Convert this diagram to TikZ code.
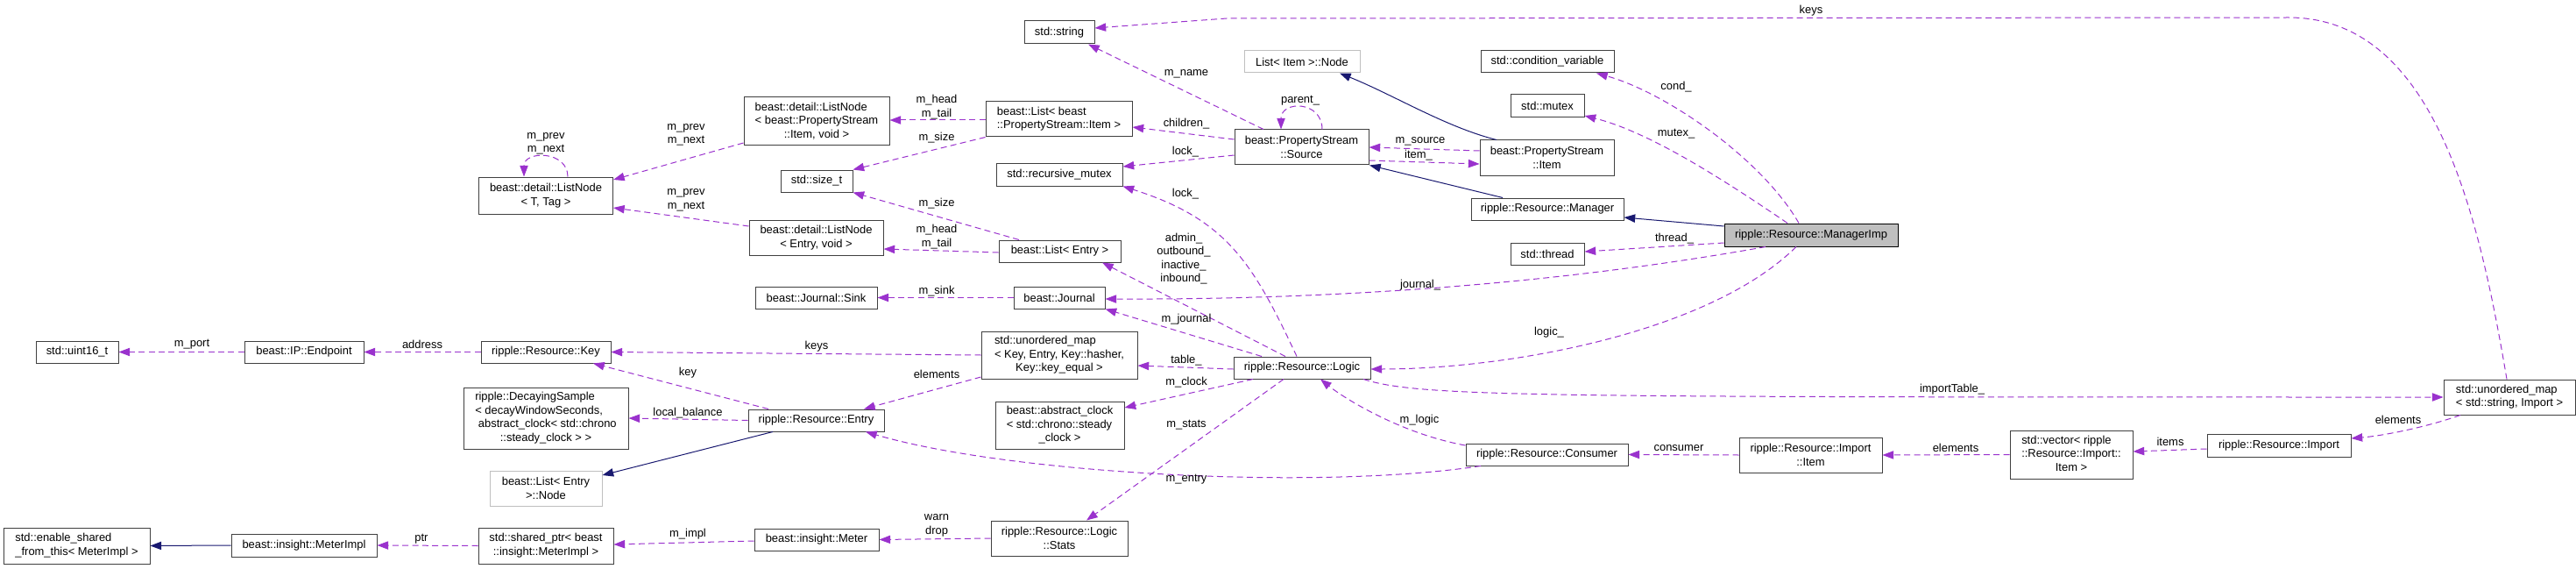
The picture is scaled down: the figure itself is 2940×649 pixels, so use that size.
\documentclass[tikz,border=0pt]{standalone}
\usepackage{fontspec}
\setmainfont{Liberation Sans}
\usetikzlibrary{arrows.meta}
\definecolor{member}{HTML}{9A32CD}
\definecolor{base}{HTML}{191970}
\definecolor{frame}{HTML}{404040}
\definecolor{greybox}{HTML}{BFBFBF}
\newcommand{\cllines}[1]{\begin{tabular}{@{}l@{}}#1\end{tabular}}
\newcommand{\cllast}[1]{\multicolumn{1}{@{}c@{}}{#1}}
\begin{document}
\begin{tikzpicture}[
        x=0.75pt, y=-0.75pt,
        every node/.style={font=\fontsize{9.7}{11.7}\selectfont, inner sep=0pt},
        cls/.style={draw=frame, fill=white, line width=0.75pt, align=center},
        undoc/.style={cls, draw=greybox},
        mainbox/.style={cls, draw=black, fill=greybox},
        boxw/.style={minimum width=#1*0.75pt},
        boxh/.style={minimum height=#1*0.75pt},
        lbl/.style={align=center},
        uses/.style={draw=member, line width=0.75pt, dash pattern=on 5.25pt off 3.25pt,
            -{Triangle[length=9.5pt,width=7pt]}},
        isa/.style={draw=base, line width=0.75pt, -{Triangle[length=9.5pt,width=7pt]}}
    ]
    \useasboundingbox (0,0) rectangle (2940,649);

    % Clases
    \node[cls, boxw=94,  boxh=25] (uint16)    at (88,401.5)   {std::uint16\_t};
    \node[cls, boxw=136, boxh=25] (endpoint)  at (347,401.5)  {beast::IP::Endpoint};
    \node[cls, boxw=148, boxh=25] (key)       at (623,401.5)  {ripple::Resource::Key};
    \node[cls, boxw=188, boxh=70] (decay)     at (623,477)
        {\cllines{ripple::DecayingSample\\< decayWindowSeconds,\\\ abstract\_clock< std::chrono\\\cllast{::steady\_clock > >}}};
    \node[undoc, boxw=128, boxh=40] (entrynode) at (623,557)  {beast::List< Entry\\>::Node};
    \node[cls, boxw=167, boxh=41] (enableshared) at (87.5,622.5)
        {\cllines{std::enable\_shared\\\cllast{\_from\_this< MeterImpl >}}};
    \node[cls, boxw=166, boxh=26] (meterimpl) at (347,622)    {beast::insight::MeterImpl};
    \node[cls, boxw=154, boxh=41] (sharedptr) at (623,622.5)
        {\cllines{std::shared\_ptr< beast\\\cllast{::insight::MeterImpl >}}};
    \node[cls, boxw=153, boxh=42] (listnodet) at (623,223)    {beast::detail::ListNode\\< T, Tag >};

    \node[cls, boxw=166, boxh=55] (listnodeitem) at (932,138.5)
        {\cllines{beast::detail::ListNode\\< beast::PropertyStream\\\cllast{::Item, void >}}};
    \node[cls, boxw=82,  boxh=25] (sizet)     at (932,206.5)  {std::size\_t};
    \node[cls, boxw=153, boxh=40] (listnodeentry) at (931.5,271) {beast::detail::ListNode\\< Entry, void >};
    \node[cls, boxw=139, boxh=25] (sink)      at (931.5,339.5) {beast::Journal::Sink};
    \node[cls, boxw=155, boxh=25] (entry)     at (931.5,479.5) {ripple::Resource::Entry};
    \node[cls, boxw=142, boxh=25] (meter)     at (932,615.5)  {beast::insight::Meter};

    \node[cls, boxw=80,  boxh=26] (string)    at (1209,37)    {std::string};
    \node[cls, boxw=167, boxh=40] (listitem)  at (1208.5,136)
        {\cllines{beast::List< beast\\\cllast{::PropertyStream::Item >}}};
    \node[cls, boxw=144, boxh=25] (recmutex)  at (1209,199.5) {std::recursive\_mutex};
    \node[cls, boxw=139, boxh=25] (listentry) at (1209.5,286.5) {beast::List< Entry >};
    \node[cls, boxw=104, boxh=25] (journal)   at (1209,339.5) {beast::Journal};
    \node[cls, boxw=178, boxh=54] (keymap)    at (1209,405)
        {\cllines{std::unordered\_map\\< Key, Entry, Key::hasher,\\\cllast{Key::key\_equal >}}};
    \node[cls, boxw=147, boxh=54] (clock)     at (1209.5,485)
        {\cllines{beast::abstract\_clock\\< std::chrono::steady\\\cllast{\_clock >}}};
    \node[cls, boxw=156, boxh=40] (stats)     at (1209,614)   {ripple::Resource::Logic\\::Stats};

    \node[undoc, boxw=132, boxh=25] (itemnode) at (1486,70.5) {List< Item >::Node};
    \node[cls, boxw=153, boxh=40] (source)    at (1485.5,168) {beast::PropertyStream\\::Source};
    \node[cls, boxw=156, boxh=25] (logic)     at (1486,419.5) {ripple::Resource::Logic};

    \node[cls, boxw=152, boxh=25] (condvar)   at (1766,70.5)  {std::condition\_variable};
    \node[cls, boxw=84,  boxh=26] (mutex)     at (1766,121)   {std::mutex};
    \node[cls, boxw=153, boxh=40] (psitem)    at (1765.5,180) {beast::PropertyStream\\::Item};
    \node[cls, boxw=174, boxh=25] (manager)   at (1766,238.5) {ripple::Resource::Manager};
    \node[cls, boxw=84,  boxh=25] (thread)    at (1766,289.5) {std::thread};
    \node[cls, boxw=185, boxh=25] (consumer)  at (1765.5,518.5) {ripple::Resource::Consumer};

    \node[mainbox, boxw=198, boxh=26] (managerimp) at (2067,268) {ripple::Resource::ManagerImp};
    \node[cls, boxw=163, boxh=40] (importitem) at (2066.5,519) {ripple::Resource::Import\\::Item};
    \node[cls, boxw=140, boxh=55] (importvec) at (2364,518.5)
        {\cllines{std::vector< ripple\\::Resource::Import::\\\cllast{Item >}}};
    \node[cls, boxw=164, boxh=26] (import)    at (2601,508)   {ripple::Resource::Import};
    \node[cls, boxw=150, boxh=40] (importmap) at (2864,453)
        {\cllines{std::unordered\_map\\\cllast{< std::string, Import >}}};

    % Herencia
    \draw[isa] (1708,0 |- psitem.north) .. controls (1650,145) and (1590,108) .. (1529,0 |- itemnode.south);
    \draw[isa] (1715,0 |- manager.north) -- (1563,0 |- source.south);
    \draw[isa] (managerimp.west |- 0,258) -- (manager.east |- 0,248);
    \draw[isa] (882,0 |- entry.south) -- (entrynode.east |- 0,542);
    \draw[isa] (meterimpl.west) -- (enableshared.east);

    % Miembros
    \draw[uses] (648,0 |- listnodet.north) .. controls +(0,-30) and +(0,-30) .. (598,0 |- listnodet.north);
    \draw[uses] (listnodeitem.west |- 0,163) -- (listnodet.east |- 0,205);
    \draw[uses] (listnodeentry.west |- 0,258) -- (listnodet.east |- 0,237);
    \draw[uses] (listitem.west |- 0,137) -- (listnodeitem.east |- 0,137);
    \draw[uses] (listitem.south west) -- (sizet.north east);
    \draw[uses] (1163,0 |- listentry.north) -- (sizet.south east);
    \draw[uses] (listentry.west |- 0,288) -- (listnodeentry.east |- 0,284);
    \draw[uses] (1442,0 |- source.north) -- (1242,0 |- string.south);
    \draw[uses] (source.west |- 0,159) -- (listitem.east |- 0,145);
    \draw[uses] (source.west |- 0,177) -- (recmutex.east |- 0,190);
    \draw[uses] (1509,0 |- source.north) .. controls +(0,-33) and +(0,-33) .. (1462,0 |- source.north);
    \draw[uses] (psitem.west |- 0,172) -- (source.east |- 0,168);
    \draw[uses] (source.east |- 0,183) -- (psitem.west |- 0,187);
    \draw[uses] (2053,0 |- managerimp.north) .. controls (2010,180) and (1900,105) .. (1822,0 |- condvar.south);
    \draw[uses] (2040,0 |- managerimp.north) .. controls (1960,200) and (1880,150) .. (mutex.east |- 0,132);
    \draw[uses] (managerimp.west |- 0,277) -- (thread.east |- 0,287);
    \draw[uses] (2015,0 |- managerimp.south) .. controls (1800,320) and (1550,342) .. (journal.east |- 0,341);
    \draw[uses] (2050,0 |- managerimp.south) .. controls (1950,380) and (1720,421) .. (logic.east |- 0,421);
    \draw[uses] (1480,0 |- logic.north) .. controls (1430,300) and (1400,250) .. (recmutex.south east);
    \draw[uses] (1467,0 |- logic.north) -- (1258,0 |- listentry.south);
    \draw[uses] (1440,0 |- logic.north) -- (journal.south east);
    \draw[uses] (logic.west |- 0,421) -- (keymap.east |- 0,417);
    \draw[uses] (1430,0 |- logic.south) -- (clock.east |- 0,465);
    \draw[uses] (1465,0 |- logic.south) -- (1240,0 |- stats.north);
    \draw[uses] (1556,0 |- logic.south) .. controls (1620,453) and (1750,453) .. (importmap.west);
    \draw[uses] (journal.west) -- (sink.east);
    \draw[uses] (keymap.west) -- (key.east);
    \draw[uses] (keymap.west |- 0,430) -- (986,0 |- entry.north);
    \draw[uses] (877,0 |- entry.north) -- (677,0 |- key.south);
    \draw[uses] (entry.west) -- (decay.east);
    \draw[uses] (key.west) -- (endpoint.east);
    \draw[uses] (endpoint.west) -- (uint16.east);
    \draw[uses] (consumer.west |- 0,508) .. controls (1600,495) and (1535,455) .. (1507,0 |- logic.south);
    \draw[uses] (1690,0 |- consumer.south) .. controls (1500,560) and (1150,540) .. (988,0 |- entry.south);
    \draw[uses] (importitem.west) -- (consumer.east);
    \draw[uses] (importvec.west) -- (importitem.east);
    \draw[uses] (import.west |- 0,512) -- (importvec.east |- 0,515);
    \draw[uses] (2808,0 |- importmap.south) .. controls (2770,487) and (2720,497) .. (import.east |- 0,500);
    \draw[uses] (2861,0 |- importmap.north) .. controls (2830,250) and (2780,20) .. (2612,20)
        -- (1400,21) -- (string.east |- 0,32);
    \draw[uses] (stats.west |- 0,614) -- (meter.east);
    \draw[uses] (meter.west |- 0,617) -- (sharedptr.east |- 0,621);
    \draw[uses] (sharedptr.west) -- (meterimpl.east);

    % Etiquetas
    \node[lbl] (l-loopt)   at (623,164)  {m\_prev\\m\_next};
    \node[lbl] (l-prev1)   at (783,154)  {m\_prev\\m\_next};
    \node[lbl] (l-prev2)   at (783,228.5) {m\_prev\\m\_next};
    \node[lbl] (l-head1)   at (1069,122) {m\_head\\m\_tail};
    \node[lbl] (l-size1)   at (1069,157) {m\_size};
    \node[lbl] (l-size2)   at (1069,232) {m\_size};
    \node[lbl] (l-head2)   at (1069,270) {m\_head\\m\_tail};
    \node[lbl] (l-name)    at (1354,84)  {m\_name};
    \node[lbl] (l-child)   at (1354,141) {children\_};
    \node[lbl] (l-lock1)   at (1353,173) {lock\_};
    \node[lbl] (l-parent)  at (1484,115) {parent\_};
    \node[lbl] (l-msource) at (1621,161) {m\_source};
    \node[lbl] (l-item)    at (1619,177) {item\_};
    \node[lbl] (l-cond)    at (1913,99)  {cond\_};
    \node[lbl] (l-mutex)   at (1913,153) {mutex\_};
    \node[lbl] (l-thread)  at (1911,272) {thread\_};
    \node[lbl] (l-journal) at (1621,325) {journal\_};
    \node[lbl] (l-logic)   at (1768,379) {logic\_};
    \node[lbl] (l-lock2)   at (1353,221) {lock\_};
    \node[lbl] (l-lists)   at (1351,295) {admin\_\\outbound\_\\inactive\_\\inbound\_};
    \node[lbl] (l-mjourn)  at (1354,364) {m\_journal};
    \node[lbl] (l-table)   at (1354,411) {table\_};
    \node[lbl] (l-clock)   at (1354,436) {m\_clock};
    \node[lbl] (l-stats)   at (1354,485) {m\_stats};
    \node[lbl] (l-imptab)  at (2228,444) {importTable\_};
    \node[lbl] (l-sink)    at (1069,332) {m\_sink};
    \node[lbl] (l-keys1)   at (932,395)  {keys};
    \node[lbl] (l-elem1)   at (1069,427) {elements};
    \node[lbl] (l-key)     at (785,425)  {key};
    \node[lbl] (l-balance) at (785,471)  {local\_balance};
    \node[lbl] (l-address) at (482,393)  {address};
    \node[lbl] (l-port)    at (219,393)  {m\_port};
    \node[lbl] (l-mlogic)  at (1620,479) {m\_logic};
    \node[lbl] (l-mentry)  at (1354,547) {m\_entry};
    \node[lbl] (l-consum)  at (1916,511) {consumer};
    \node[lbl] (l-elem2)   at (2232,511) {elements};
    \node[lbl] (l-items)   at (2477,504) {items};
    \node[lbl] (l-elem3)   at (2737,479) {elements};
    \node[lbl] (l-keys2)   at (2067,12)  {keys};
    \node[lbl] (l-warn)    at (1069,599.5) {warn\\drop};
    \node[lbl] (l-impl)    at (785,609)  {m\_impl};
    \node[lbl] (l-ptr)     at (481,615)  {ptr};

\end{tikzpicture}
\end{document}
